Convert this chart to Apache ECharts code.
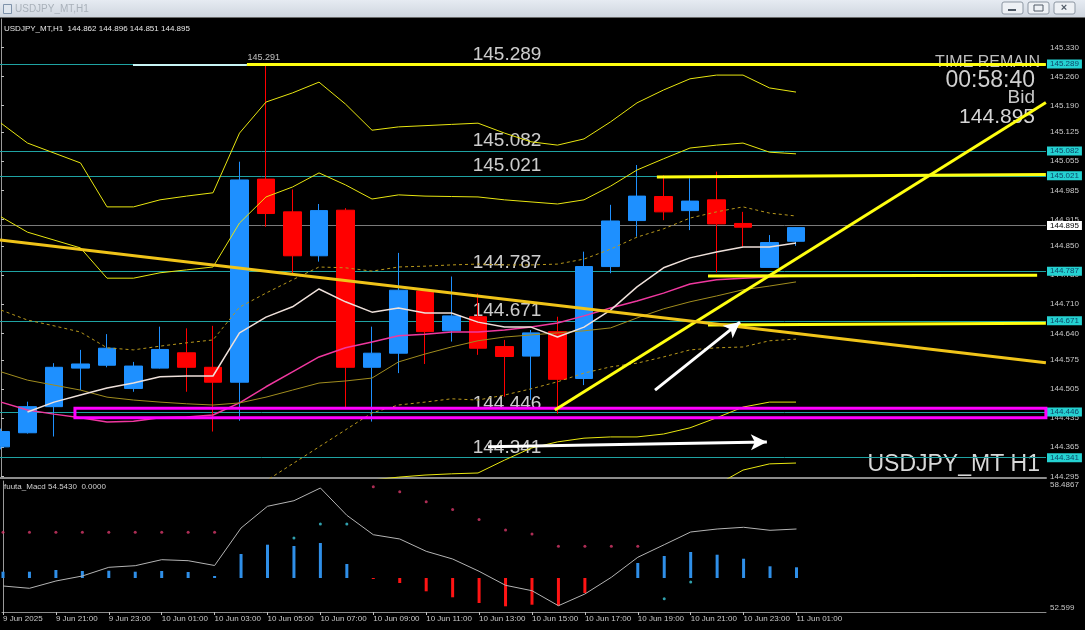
<!DOCTYPE html>
<html lang="en">
<head>
<meta charset="UTF-8"/>
<script src="https://cdn.jsdelivr.net/npm/echarts@6/dist/echarts.min.js"></script>
<title>USDJPY_MT,H1</title>
<style>
    html, body { margin: 0; padding: 0; background: #000; }
    #chart { width: 1085px; height: 630px; }
</style>
</head>
<body>
<div id="chart"></div>
<script type="text/javascript">
// H1 bars from 9 Jun 19:00 to 11 Jun 01:00 (31 bars), labels every 2 bars
var tickLabels = ['9 Jun 2025', '9 Jun 21:00', '9 Jun 23:00', '10 Jun 01:00', '10 Jun 03:00', '10 Jun 05:00',
    '10 Jun 07:00', '10 Jun 09:00', '10 Jun 11:00', '10 Jun 13:00', '10 Jun 15:00', '10 Jun 17:00',
    '10 Jun 19:00', '10 Jun 21:00', '10 Jun 23:00', '11 Jun 01:00'];

var open  = [144.366, 144.400, 144.463, 144.556, 144.563, 144.507, 144.556, 144.593, 144.558, 144.522, 145.012, 144.933, 144.827, 144.937, 144.558, 144.592, 144.742, 144.646, 144.680, 144.608, 144.585, 144.644, 144.531, 144.801, 144.912, 144.970, 144.936, 144.962, 144.905, 144.799, 144.862];
var close = [144.403, 144.463, 144.558, 144.566, 144.604, 144.561, 144.601, 144.558, 144.522, 145.010, 144.929, 144.827, 144.936, 144.558, 144.592, 144.744, 144.644, 144.682, 144.604, 144.584, 144.641, 144.529, 144.801, 144.911, 144.971, 144.933, 144.959, 144.904, 144.896, 144.859, 144.895];
var low   = [144.360, 144.398, 144.391, 144.503, 144.558, 144.499, 144.555, 144.499, 144.403, 144.429, 144.897, 144.785, 144.813, 144.460, 144.427, 144.544, 144.566, 144.620, 144.588, 144.487, 144.479, 144.446, 144.515, 144.785, 144.873, 144.913, 144.889, 144.787, 144.849, 144.799, 144.851];
var high  = [144.410, 144.475, 144.568, 144.600, 144.638, 144.571, 144.656, 144.652, 144.658, 145.054, 145.291, 144.987, 144.952, 144.942, 144.656, 144.834, 144.743, 144.777, 144.736, 144.624, 144.648, 144.680, 144.837, 144.950, 145.046, 145.021, 145.014, 145.030, 144.933, 144.877, 144.896];

// bollinger bands (±1, ±2, ±3) and moving averages
var bbUp3 = [145.147, 145.099, 145.075, 145.051, 144.945, 144.945, 144.962, 144.971, 144.979, 145.123, 145.198, 145.220, 145.246, 145.193, 145.130, 145.138, 145.141, 145.144, 145.147, 145.123, 145.102, 145.094, 145.109, 145.150, 145.196, 145.227, 145.254, 145.263, 145.263, 145.232, 145.222];
var bbUp2 = [144.921, 144.884, 144.865, 144.846, 144.773, 144.773, 144.786, 144.793, 144.800, 144.906, 144.969, 144.993, 145.027, 144.998, 144.964, 144.974, 144.971, 144.970, 144.969, 144.962, 144.957, 144.952, 144.962, 144.995, 145.034, 145.061, 145.087, 145.094, 145.099, 145.077, 145.073];
var bbUp1 = [144.696, 144.672, 144.658, 144.643, 144.605, 144.600, 144.609, 144.617, 144.624, 144.703, 144.737, 144.769, 144.800, 144.798, 144.790, 144.800, 144.802, 144.805, 144.807, 144.805, 144.805, 144.807, 144.819, 144.843, 144.872, 144.892, 144.918, 144.933, 144.945, 144.930, 144.923];
var bbMid = [144.474, 144.455, 144.445, 144.436, 144.426, 144.428, 144.436, 144.438, 144.443, 144.472, 144.511, 144.547, 144.583, 144.605, 144.619, 144.634, 144.638, 144.643, 144.643, 144.648, 144.655, 144.665, 144.682, 144.701, 144.718, 144.737, 144.759, 144.769, 144.773, 144.776, 144.778];
var bbLo1 = [null, null, null, null, null, null, null, null, null, 144.240, 144.284, 144.325, 144.366, 144.407, 144.448, 144.467, 144.474, 144.482, 144.479, 144.491, 144.506, 144.523, 144.544, 144.559, 144.568, 144.583, 144.600, 144.605, 144.607, 144.622, 144.626];
var bbLo2 = [null, null, null, null, null, null, null, null, null, null, null, null, 144.139, 144.211, 144.286, 144.293, 144.298, 144.301, 144.303, 144.334, 144.363, 144.378, 144.387, 144.390, 144.390, 144.397, 144.412, 144.436, 144.462, 144.474, 144.474];
var bbLo3 = [null, null, null, null, null, null, null, null, null, null, null, null, null, null, null, null, null, null, null, null, null, null, null, null, null, 144.247, 144.264, 144.274, 144.310, 144.325, 144.327];
var maFast = [null, 144.450, 144.474, 144.491, 144.508, 144.520, 144.535, 144.537, 144.537, 144.641, 144.679, 144.704, 144.747, 144.716, 144.691, 144.701, 144.689, 144.689, 144.667, 144.655, 144.655, 144.631, 144.655, 144.696, 144.752, 144.798, 144.822, 144.836, 144.848, 144.848, 144.858];
var maSlow = [144.547, 144.527, 144.515, 144.503, 144.486, 144.479, 144.474, 144.470, 144.467, 144.472, 144.486, 144.503, 144.520, 144.525, 144.532, 144.571, 144.590, 144.607, 144.622, 144.631, 144.636, 144.641, 144.646, 144.653, 144.677, 144.699, 144.716, 144.730, 144.745, 144.754, 144.764];

// fuuta_Macd sub window
var macdLine = [53.768, 53.664, 53.992, 54.217, 54.608, 54.680, 54.950, 54.905, 54.689, 56.374, 57.350, 57.601, 58.172, 56.945, 56.073, 55.880, 55.327, 54.981, 54.428, 53.799, 53.556, 52.882, 53.408, 54.159, 55.057, 55.624, 56.195, 56.329, 56.406, 56.271, 56.329];
var macdHist = [54.410, 54.410, 54.487, 54.442, 54.455, 54.410, 54.442, 54.397, 54.217, 55.206, 55.624, 55.565, 55.700, 54.756, 54.082, 53.902, 53.529, 53.260, 53.003, 52.855, 52.927, 52.882, 53.453, null, 54.801, 55.116, 55.296, 55.174, 54.994, 54.653, 54.608];
var macdBase = 54.127;
var dotRed = [56.181, 56.181, 56.181, 56.181, 56.181, 56.181, 56.181, 56.181, 56.181, null, null, null, null, null, 58.231, 58.006, 57.556, 57.206, 56.756, 56.284, 56.105, 55.552, 55.552, 55.552, 55.552, null, null, null, null, null, null];
var dotCyan = [null, null, null, null, null, null, null, null, null, null, null, 55.925, 56.554, 56.554, null, null, null, null, null, null, null, null, null, null, null, 53.197, 53.947, null, null, null, null];
var macdScale = [52.599, 58.4867];
var macdScaleText = ['52.599', '58.4867'];

// price axis, levels and drawn objects (bar index, price)
var priceTicks = [145.330, 145.260, 145.190, 145.125, 145.055, 144.985, 144.915, 144.850, 144.780, 144.710, 144.640, 144.575, 144.505, 144.435, 144.365, 144.295];
var levels = [145.289, 145.082, 145.021, 144.787, 144.671, 144.446, 144.341];
var bid = 144.895;
var levelTextX = 17.8;
var highTag = [9.3, 145.291];
var yellowLines = [
    [9.28, 145.289, 39.43, 145.289],
    [24.75, 145.017, 39.43, 145.023],
    [26.68, 144.778, 39.1, 144.780],
    [26.68, 144.660, 39.43, 144.664],
    [20.9, 144.455, 39.43, 145.197]
];
var goldLine = [-0.037, 144.865, 39.43, 144.569];
var arrows = [
    [24.68, 144.503, 27.89, 144.667],
    [18.38, 144.366, 28.9, 144.378]
];
var box = [2.79, 144.436, 39.43, 144.459];
var shortLine = [4.98, 145.289, 9.28, 145.289];

var xMin = -0.038, xMax = 39.434;
var FONT = '"Liberation Sans", Arial, sans-serif';

function pts(arr) {
    return arr.map(function (v, i) { return [i, v]; });
}
function seg(s) {
    return [{coord: [s[0], s[1]]}, {coord: [s[2], s[3]]}];
}
function bandLine(name, arr, color, dotted) {
    return {
        name: name, type: 'line', data: pts(arr), symbol: 'none', z: 3,
        lineStyle: {color: color, width: 1, type: dotted ? [3, 3] : 'solid'}
    };
}

var ohlc = open.map(function (o, i) { return [i, o, close[i], low[i], high[i]]; });
var last = ohlc.length - 1;

var levelLines = levels.map(function (p) {
    return {
        yAxis: p,
        lineStyle: {color: '#1fa3a3', width: 1, type: 'solid'},
        label: {show: true, position: 'end', distance: 1, formatter: p.toFixed(3),
            backgroundColor: '#25d2d2', color: '#0d4668', fontSize: 8, fontFamily: FONT, padding: [1, 3, 0, 3]}
    };
});
levelLines.push({
    yAxis: bid,
    lineStyle: {color: '#7a7a7a', width: 1, type: 'solid'},
    label: {show: true, position: 'end', distance: 1, formatter: bid.toFixed(3),
        backgroundColor: '#ffffff', color: '#000', fontSize: 8, fontFamily: FONT, padding: [1, 3, 0, 3]}
});

var objLines = yellowLines.map(function (s) {
    var d = seg(s);
    d[0].lineStyle = {color: '#ffff10', width: 3, type: 'solid'};
    return d;
});
var g = seg(goldLine);
g[0].lineStyle = {color: '#f0c419', width: 3, type: 'solid'};
objLines.push(g);
var sl = seg(shortLine);
sl[0].lineStyle = {color: '#c8f4f4', width: 2, type: 'solid'};
objLines.unshift(sl);

var arrowLines = arrows.map(function (s) { return seg(s); });

var myChart = echarts.init(document.getElementById('chart'));
var option = {
    backgroundColor: '#000',
    animation: false,
    grid: [
        {left: 0, right: 39, top: 19, height: 459},
        {left: 0, right: 39, top: 481, height: 131}
    ],
    xAxis: [
        {type: 'value', gridIndex: 0, min: xMin, max: xMax,
            axisLine: {show: true, onZero: false, lineStyle: {color: '#8c8c8c', width: 2}},
            axisTick: {show: false}, axisLabel: {show: false}, splitLine: {show: false}},
        {type: 'value', gridIndex: 1, min: xMin, max: xMax,
            axisLine: {show: true, onZero: false, lineStyle: {color: '#8c8c8c', width: 1}},
            axisTick: {show: true, length: 3, lineStyle: {color: '#c0c0c0'},
                customValues: tickLabels.map(function (t, k) { return k * 2; })},
            axisLabel: {show: true, color: '#c8c8c8', fontSize: 8, fontFamily: FONT, align: 'left', margin: 3,
                customValues: tickLabels.map(function (t, k) { return k * 2; }),
                formatter: function (v) { return tickLabels[Math.round(v / 2)]; }},
            splitLine: {show: false}}
    ],
    yAxis: [
        {type: 'value', gridIndex: 0, position: 'right', min: 144.2909, max: 145.3983,
            axisLine: {show: true, lineStyle: {color: '#9a9a9a'}},
            axisTick: {show: true, length: 3, lineStyle: {color: '#c0c0c0'}, customValues: priceTicks},
            axisLabel: {show: true, color: '#c8c8c8', fontSize: 8, fontFamily: FONT, margin: 4,
                customValues: priceTicks, formatter: function (v) { return v.toFixed(3); }},
            splitLine: {show: false}},
        {type: 'value', gridIndex: 1, position: 'right', min: macdScale[0], max: macdScale[1],
            axisLine: {show: true, lineStyle: {color: '#9a9a9a'}},
            axisTick: {show: false},
            axisLabel: {show: true, color: '#c8c8c8', fontSize: 8, fontFamily: FONT, margin: 4,
                customValues: macdScale, verticalAlignMinLabel: 'bottom', verticalAlignMaxLabel: 'top',
                formatter: function (v) { return v > 55 ? macdScaleText[1] : macdScaleText[0]; }},
            splitLine: {show: false}}
    ],
    graphic: {elements: [
        {type: 'rect', left: 0, top: 0, shape: {width: 1085, height: 17},
            style: {fill: new echarts.graphic.LinearGradient(0, 0, 0, 1, [{offset: 0, color: '#e6ebf2'}, {offset: 1, color: '#cfd6df'}])}},
        {type: 'rect', left: 0, top: 17, shape: {width: 1085, height: 1}, style: {fill: '#6a6a6a'}},
        {type: 'rect', left: 3, top: 4, shape: {width: 8, height: 9}, style: {fill: '#dfe6ee', stroke: '#7f93ab', lineWidth: 1}},
        {type: 'text', x: 15, y: 9, style: {text: 'USDJPY_MT,H1', fill: '#a9b1ba', font: '10px ' + FONT, verticalAlign: 'middle'}},
        {type: 'rect', x: 1002, y: 2, shape: {width: 21, height: 12, r: 2}, style: {fill: '#eef1f5', stroke: '#8d97a3'}},
        {type: 'rect', x: 1028, y: 2, shape: {width: 21, height: 12, r: 2}, style: {fill: '#eef1f5', stroke: '#8d97a3'}},
        {type: 'rect', x: 1054, y: 2, shape: {width: 21, height: 12, r: 2}, style: {fill: '#eef1f5', stroke: '#8d97a3'}},
        {type: 'rect', x: 1008, y: 9, shape: {width: 8, height: 2}, style: {fill: '#505a66'}},
        {type: 'rect', x: 1034, y: 5, shape: {width: 9, height: 6}, style: {fill: 'none', stroke: '#505a66'}},
        {type: 'text', x: 1064, y: 8, style: {text: '×', fill: '#505a66', font: 'bold 11px ' + FONT, align: 'center', verticalAlign: 'middle'}},
        {type: 'text', x: 4, y: 29, style: {text: 'USDJPY_MT,H1  ' + [open[last], high[last], low[last], close[last]].map(function (v) { return v.toFixed(3); }).join(' '),
            fill: '#e6e6e6', font: '8px ' + FONT, verticalAlign: 'middle'}},
        {type: 'text', x: 4, y: 487, style: {text: 'fuuta_Macd 54.5430  0.0000', fill: '#d0d0d0', font: '8px ' + FONT, verticalAlign: 'middle'}},
        {type: 'text', x: 1040, y: 63, style: {text: 'TIME REMAIN', fill: '#bdbdbd', font: '16px ' + FONT, align: 'right', verticalAlign: 'middle'}},
        {type: 'text', x: 1035, y: 81, style: {text: '00:58:40', fill: '#d0d0d0', font: '23px ' + FONT, align: 'right', verticalAlign: 'middle'}},
        {type: 'text', x: 1035, y: 98, style: {text: 'Bid', fill: '#c8c8c8', font: '19px ' + FONT, align: 'right', verticalAlign: 'middle'}},
        {type: 'text', x: 1035, y: 117, style: {text: bid.toFixed(3), fill: '#d6d6d6', font: '21px ' + FONT, align: 'right', verticalAlign: 'middle'}},
        {type: 'text', x: 1040, y: 465, style: {text: 'USDJPY_MT H1', fill: '#d8d8d8', font: '23px ' + FONT, align: 'right', verticalAlign: 'middle'}}
    ]},
    series: [
        {
            name: 'levels', type: 'line', data: [], z: 1,
            markLine: {silent: true, z: 1, symbol: ['none', 'none'], data: levelLines}
        },
        {
            name: 'levelText', type: 'scatter', z: 1, symbolSize: 0, silent: true,
            data: levels.map(function (p) { return [levelTextX, p]; }),
            label: {show: true, position: 'top', align: 'left', distance: 0, color: '#ffffff', fontSize: 19, fontFamily: FONT,
                formatter: function (p) { return p.value[1].toFixed(3); }}
        },
        {
            name: 'highTag', type: 'scatter', z: 1, symbolSize: 0, silent: true,
            data: [highTag],
            label: {show: true, position: 'top', align: 'left', distance: 1, color: '#e8e8e8', fontSize: 9, fontFamily: FONT,
                formatter: function (p) { return p.value[1].toFixed(3); }}
        },
        {
            name: 'USDJPY', type: 'candlestick', z: 2, data: ohlc, barWidth: 18,
            itemStyle: {color: '#1e90ff', color0: '#ff0000', borderColor: '#1e90ff', borderColor0: '#ff0000', borderWidth: 1}
        },
        bandLine('bb+3', bbUp3, '#e8e610', false),
        bandLine('bb+2', bbUp2, '#e8e610', false),
        bandLine('bb+1', bbUp1, '#b8981c', true),
        bandLine('bb-1', bbLo1, '#b8981c', true),
        bandLine('bb-2', bbLo2, '#e8e610', false),
        bandLine('bb-3', bbLo3, '#e8e610', false),
        {name: 'mid', type: 'line', data: pts(bbMid), symbol: 'none', z: 3, lineStyle: {color: '#f0389f', width: 1.5}},
        {name: 'slow', type: 'line', data: pts(maSlow), symbol: 'none', z: 3, lineStyle: {color: '#a08c1e', width: 1}},
        {name: 'fast', type: 'line', data: pts(maFast), symbol: 'none', z: 3, lineStyle: {color: '#eee0da', width: 1.5}},
        {
            name: 'objects', type: 'line', data: [], z: 4,
            markArea: {silent: true, z: 4, label: {show: false},
                itemStyle: {color: 'rgba(0,0,0,0)', borderColor: '#ff00ff', borderWidth: 3},
                data: [[{coord: [box[0], box[1]]}, {coord: [box[2], box[3]]}]]},
            markLine: {silent: true, z: 6, symbol: ['none', 'none'], label: {show: false}, data: objLines}
        },
        {
            name: 'arrows', type: 'line', data: [], z: 5,
            markLine: {silent: true, z: 7, symbol: ['none', 'arrow'], symbolSize: [12, 16], label: {show: false},
                lineStyle: {color: '#ffffff', width: 3, type: 'solid'}, data: arrowLines}
        },
        {
            name: 'macd', type: 'line', xAxisIndex: 1, yAxisIndex: 1, data: pts(macdLine), symbol: 'none',
            lineStyle: {color: '#b4b4b4', width: 1}
        },
        {
            name: 'hist', type: 'custom', xAxisIndex: 1, yAxisIndex: 1,
            data: macdHist.map(function (v, i) { return [i, v]; }).filter(function (d) { return d[1] != null; }),
            renderItem: function (params, api) {
                var x = api.value(0), v = api.value(1);
                var a = api.coord([x, macdBase]), b = api.coord([x, v]);
                return {type: 'rect',
                    shape: {x: a[0] - 1.5, y: Math.min(a[1], b[1]), width: 3, height: Math.max(1, Math.abs(b[1] - a[1]))},
                    style: {fill: v >= macdBase ? '#2f8fe8' : '#ff1414'}};
            }
        },
        {
            name: 'dotRed', type: 'scatter', xAxisIndex: 1, yAxisIndex: 1, symbolSize: 3,
            itemStyle: {color: '#d8386a'},
            data: pts(dotRed).filter(function (d) { return d[1] != null; })
        },
        {
            name: 'dotCyan', type: 'scatter', xAxisIndex: 1, yAxisIndex: 1, symbolSize: 3,
            itemStyle: {color: '#3cc8d8'},
            data: pts(dotCyan).filter(function (d) { return d[1] != null; })
        }
    ]
};
myChart.setOption(option);
</script>
</body>
</html>
